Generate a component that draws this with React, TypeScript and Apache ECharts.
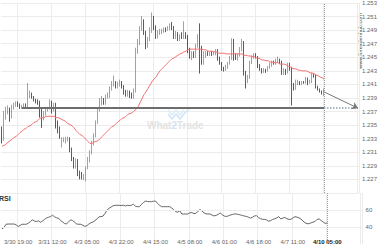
import { useEffect, useRef } from 'react';
import * as echarts from 'echarts';

const TICK_LABELS = ['3/30 19:00', '3/31 12:00', '4/3 05:00', '4/3 22:00', '4/4 15:00', '4/5 08:00', '4/6 01:00', '4/6 18:00', '4/7 11:00', '4/10 05:00'];
const FIRST_TICK = 8;
const TICK_STEP = 17;
const SLOT_COUNT = 179;

// [open, close, low, high]
const CANDLES: number[][] = [
  [1.2345, 1.2327, 1.2323, 1.2348], [1.2330, 1.2364, 1.2327, 1.2371], [1.2363, 1.2371, 1.2358, 1.2377], [1.2370, 1.2374, 1.2366, 1.2379],
  [1.2374, 1.2360, 1.2355, 1.2376], [1.2361, 1.2377, 1.2360, 1.2380], [1.2376, 1.2380, 1.2373, 1.2383], [1.2379, 1.2383, 1.2377, 1.2385],
  [1.2383, 1.2379, 1.2377, 1.2385], [1.2379, 1.2376, 1.2374, 1.2382], [1.2376, 1.2377, 1.2374, 1.2380], [1.2377, 1.2380, 1.2376, 1.2382],
  [1.2380, 1.2377, 1.2376, 1.2382], [1.2377, 1.2392, 1.2376, 1.2412], [1.2392, 1.2395, 1.2390, 1.2401], [1.2395, 1.2390, 1.2389, 1.2398],
  [1.2390, 1.2386, 1.2385, 1.2393], [1.2386, 1.2385, 1.2382, 1.2389], [1.2385, 1.2383, 1.2380, 1.2388], [1.2383, 1.2364, 1.2361, 1.2386],
  [1.2368, 1.2357, 1.2346, 1.2376], [1.2360, 1.2368, 1.2357, 1.2371], [1.2367, 1.2371, 1.2364, 1.2374], [1.2371, 1.2374, 1.2370, 1.2377],
  [1.2374, 1.2383, 1.2373, 1.2388], [1.2383, 1.2371, 1.2367, 1.2386], [1.2371, 1.2380, 1.2370, 1.2383], [1.2380, 1.2349, 1.2345, 1.2383],
  [1.2351, 1.2342, 1.2338, 1.2357], [1.2342, 1.2333, 1.2330, 1.2348], [1.2320, 1.2329, 1.2317, 1.2332], [1.2326, 1.2329, 1.2325, 1.2332],
  [1.2326, 1.2330, 1.2323, 1.2333], [1.2327, 1.2330, 1.2326, 1.2333], [1.2329, 1.2313, 1.2310, 1.2332], [1.2313, 1.2298, 1.2297, 1.2317],
  [1.2298, 1.2289, 1.2286, 1.2303], [1.2289, 1.2298, 1.2286, 1.2301], [1.2297, 1.2281, 1.2275, 1.2300], [1.2282, 1.2275, 1.2270, 1.2283],
  [1.2276, 1.2273, 1.2270, 1.2281], [1.2272, 1.2275, 1.2269, 1.2278], [1.2273, 1.2286, 1.2267, 1.2289], [1.2286, 1.2298, 1.2285, 1.2303],
  [1.2298, 1.2310, 1.2295, 1.2313], [1.2310, 1.2323, 1.2307, 1.2327], [1.2323, 1.2335, 1.2320, 1.2338], [1.2335, 1.2354, 1.2332, 1.2357],
  [1.2355, 1.2371, 1.2352, 1.2376], [1.2371, 1.2383, 1.2370, 1.2390], [1.2382, 1.2388, 1.2379, 1.2393], [1.2388, 1.2383, 1.2380, 1.2390],
  [1.2383, 1.2392, 1.2380, 1.2395], [1.2392, 1.2395, 1.2389, 1.2398], [1.2393, 1.2404, 1.2390, 1.2407], [1.2404, 1.2411, 1.2401, 1.2415],
  [1.2409, 1.2412, 1.2407, 1.2423], [1.2412, 1.2407, 1.2404, 1.2415], [1.2407, 1.2411, 1.2404, 1.2414], [1.2409, 1.2412, 1.2407, 1.2417],
  [1.2412, 1.2407, 1.2404, 1.2415], [1.2407, 1.2398, 1.2395, 1.2409], [1.2399, 1.2395, 1.2392, 1.2402], [1.2395, 1.2399, 1.2392, 1.2402],
  [1.2399, 1.2393, 1.2390, 1.2401], [1.2393, 1.2392, 1.2389, 1.2398], [1.2392, 1.2401, 1.2389, 1.2404], [1.2401, 1.2459, 1.2398, 1.2464],
  [1.2459, 1.2471, 1.2455, 1.2477], [1.2471, 1.2492, 1.2468, 1.2496], [1.2492, 1.2503, 1.2489, 1.2511], [1.2503, 1.2486, 1.2483, 1.2506],
  [1.2486, 1.2467, 1.2462, 1.2489], [1.2467, 1.2477, 1.2464, 1.2480], [1.2477, 1.2489, 1.2474, 1.2494], [1.2489, 1.2506, 1.2486, 1.2516],
  [1.2506, 1.2493, 1.2490, 1.2511], [1.2493, 1.2480, 1.2477, 1.2497], [1.2481, 1.2487, 1.2478, 1.2490], [1.2486, 1.2489, 1.2483, 1.2492],
  [1.2487, 1.2489, 1.2484, 1.2492], [1.2489, 1.2492, 1.2486, 1.2494], [1.2492, 1.2490, 1.2487, 1.2494], [1.2490, 1.2493, 1.2489, 1.2496],
  [1.2492, 1.2496, 1.2490, 1.2500], [1.2496, 1.2493, 1.2490, 1.2502], [1.2493, 1.2480, 1.2477, 1.2496], [1.2480, 1.2484, 1.2477, 1.2489],
  [1.2484, 1.2477, 1.2474, 1.2487], [1.2477, 1.2481, 1.2474, 1.2484], [1.2481, 1.2480, 1.2477, 1.2487], [1.2480, 1.2484, 1.2477, 1.2503],
  [1.2484, 1.2480, 1.2477, 1.2487], [1.2480, 1.2459, 1.2456, 1.2483], [1.2459, 1.2451, 1.2448, 1.2464], [1.2449, 1.2456, 1.2446, 1.2459],
  [1.2456, 1.2452, 1.2449, 1.2459], [1.2452, 1.2467, 1.2449, 1.2470], [1.2467, 1.2481, 1.2464, 1.2484], [1.2481, 1.2445, 1.2426, 1.2500],
  [1.2448, 1.2442, 1.2439, 1.2467], [1.2442, 1.2456, 1.2439, 1.2459], [1.2452, 1.2456, 1.2449, 1.2459], [1.2456, 1.2453, 1.2452, 1.2459],
  [1.2453, 1.2456, 1.2452, 1.2458], [1.2456, 1.2455, 1.2452, 1.2459], [1.2455, 1.2456, 1.2453, 1.2459], [1.2455, 1.2459, 1.2453, 1.2462],
  [1.2459, 1.2448, 1.2445, 1.2462], [1.2448, 1.2440, 1.2439, 1.2451], [1.2440, 1.2433, 1.2430, 1.2443], [1.2433, 1.2431, 1.2429, 1.2436],
  [1.2431, 1.2436, 1.2430, 1.2439], [1.2436, 1.2440, 1.2433, 1.2443], [1.2440, 1.2449, 1.2439, 1.2452], [1.2449, 1.2474, 1.2446, 1.2478],
  [1.2474, 1.2452, 1.2445, 1.2477], [1.2452, 1.2449, 1.2446, 1.2456], [1.2448, 1.2453, 1.2445, 1.2456], [1.2453, 1.2462, 1.2451, 1.2465],
  [1.2462, 1.2471, 1.2459, 1.2477], [1.2471, 1.2427, 1.2423, 1.2474], [1.2427, 1.2415, 1.2404, 1.2430], [1.2415, 1.2421, 1.2412, 1.2424],
  [1.2421, 1.2442, 1.2418, 1.2445], [1.2442, 1.2451, 1.2440, 1.2453], [1.2451, 1.2453, 1.2448, 1.2456], [1.2453, 1.2449, 1.2448, 1.2456],
  [1.2449, 1.2437, 1.2434, 1.2452], [1.2437, 1.2431, 1.2430, 1.2440], [1.2431, 1.2429, 1.2426, 1.2434], [1.2429, 1.2431, 1.2427, 1.2434],
  [1.2431, 1.2430, 1.2427, 1.2433], [1.2430, 1.2434, 1.2429, 1.2437], [1.2434, 1.2439, 1.2433, 1.2442], [1.2439, 1.2442, 1.2436, 1.2445],
  [1.2442, 1.2440, 1.2439, 1.2445], [1.2440, 1.2443, 1.2439, 1.2448], [1.2443, 1.2445, 1.2442, 1.2451], [1.2445, 1.2442, 1.2440, 1.2448],
  [1.2442, 1.2427, 1.2424, 1.2445], [1.2427, 1.2430, 1.2424, 1.2434], [1.2430, 1.2427, 1.2424, 1.2433], [1.2427, 1.2439, 1.2426, 1.2442],
  [1.2439, 1.2433, 1.2430, 1.2442], [1.2433, 1.2407, 1.2379, 1.2436], [1.2407, 1.2404, 1.2401, 1.2412], [1.2404, 1.2412, 1.2402, 1.2417],
  [1.2412, 1.2414, 1.2409, 1.2417], [1.2414, 1.2411, 1.2409, 1.2415], [1.2411, 1.2414, 1.2409, 1.2415], [1.2414, 1.2412, 1.2411, 1.2415],
  [1.2412, 1.2418, 1.2411, 1.2421], [1.2418, 1.2412, 1.2409, 1.2420], [1.2412, 1.2414, 1.2411, 1.2417], [1.2414, 1.2424, 1.2412, 1.2427],
  [1.2424, 1.2421, 1.2420, 1.2426], [1.2421, 1.2407, 1.2404, 1.2424], [1.2407, 1.2402, 1.2401, 1.2408], [1.2402, 1.2399, 1.2398, 1.2404],
  [1.2399, 1.2396, 1.2395, 1.2401], [1.2396, 1.2399, 1.2393, 1.2404],
];

const MA = [
  1.2319, 1.2320, 1.2322, 1.2325, 1.2327, 1.2329, 1.2332, 1.2333, 1.2336, 1.2339,
  1.2341, 1.2344, 1.2345, 1.2348, 1.2349, 1.2351, 1.2354, 1.2355, 1.2357, 1.2360,
  1.2361, 1.2361, 1.2363, 1.2363, 1.2363, 1.2363, 1.2363, 1.2361, 1.2361, 1.2360,
  1.2358, 1.2357, 1.2355, 1.2352, 1.2351, 1.2349, 1.2346, 1.2342, 1.2339, 1.2336,
  1.2335, 1.2332, 1.2329, 1.2326, 1.2323, 1.2323, 1.2325, 1.2326, 1.2327, 1.2330,
  1.2333, 1.2336, 1.2339, 1.2342, 1.2345, 1.2348, 1.2349, 1.2352, 1.2355, 1.2357,
  1.2360, 1.2361, 1.2363, 1.2366, 1.2367, 1.2368, 1.2371, 1.2373, 1.2377, 1.2383,
  1.2389, 1.2395, 1.2399, 1.2404, 1.2409, 1.2414, 1.2418, 1.2421, 1.2426, 1.2430,
  1.2433, 1.2436, 1.2439, 1.2442, 1.2445, 1.2448, 1.2449, 1.2451, 1.2453, 1.2455,
  1.2456, 1.2458, 1.2459, 1.2461, 1.2462, 1.2462, 1.2462, 1.2462, 1.2462, 1.2462,
  1.2462, 1.2461, 1.2461, 1.2459, 1.2459, 1.2459, 1.2458, 1.2458, 1.2456, 1.2456,
  1.2456, 1.2456, 1.2455, 1.2455, 1.2455, 1.2455, 1.2455, 1.2455, 1.2455, 1.2455,
  1.2455, 1.2453, 1.2453, 1.2452, 1.2452, 1.2451, 1.2451, 1.2449, 1.2449, 1.2448,
  1.2446, 1.2446, 1.2445, 1.2445, 1.2443, 1.2443, 1.2442, 1.2442, 1.2442, 1.2440,
  1.2440, 1.2440, 1.2439, 1.2437, 1.2436, 1.2434, 1.2433, 1.2433, 1.2431, 1.2431,
  1.2430, 1.2430, 1.2430, 1.2429, 1.2427, 1.2427, 1.2426, 1.2424, 1.2423, 1.2421,
  1.2420, 1.2418,
];

const RSI = [
  37.8, 39.5, 43.2, 43.5, 43.5, 43.5, 43.5, 42.5, 40.6, 42.0,
  43.2, 43.2, 43.2, 44.5, 46.2, 48.5, 47.0, 46.5, 47.3, 45.5,
  47.0, 48.8, 50.5, 51.5, 52.2, 53.8, 52.0, 50.8, 50.3, 47.5,
  46.0, 44.0, 43.8, 46.0, 48.5, 47.5, 45.5, 43.5, 43.2, 43.2,
  42.0, 40.8, 41.5, 43.5, 45.0, 45.8, 47.5, 49.5, 52.0, 52.2,
  52.8, 56.0, 60.0, 62.0, 63.5, 65.0, 65.5, 65.5, 65.5, 65.2,
  65.7, 64.7, 65.5, 65.3, 65.5, 66.8, 64.5, 63.9, 63.9, 66.5,
  68.8, 70.5, 70.0, 69.8, 69.8, 70.4, 70.5, 67.8, 65.5, 63.9,
  63.9, 63.9, 63.9, 63.9, 62.3, 60.5, 58.0, 57.5, 59.0, 55.3,
  55.3, 55.3, 55.3, 56.8, 57.0, 55.8, 56.0, 58.5, 60.5, 58.8,
  56.6, 55.5, 55.3, 55.3, 54.0, 53.0, 53.7, 54.8, 56.6, 54.5,
  52.9, 52.4, 53.0, 54.0, 54.7, 55.3, 55.3, 54.8, 54.2, 53.5,
  52.9, 52.4, 51.6, 50.4, 51.5, 53.0, 53.3, 51.0, 49.8, 49.0,
  49.0, 48.4, 46.8, 47.5, 49.0, 49.7, 50.7, 52.2, 49.5, 50.5,
  51.2, 49.8, 49.0, 49.0, 50.6, 52.1, 51.6, 50.8, 49.2, 47.0,
  45.0, 44.0, 43.8, 45.0, 45.7, 46.6, 49.0, 49.5, 47.6, 45.8,
  44.1, 45.0,
];

const SUPPORT = 1.2375;
const SUPPORT_START = 10;

const FONT = 'Liberation Sans, Arial, sans-serif';

export default function App() {
  const ref = useRef<HTMLDivElement>(null);
  useEffect(() => {
    if (!ref.current) return;
    const chart = echarts.init(ref.current, undefined, { renderer: 'svg' });
    const last = CANDLES.length - 1;
    const lastIdx = SLOT_COUNT - 1;
    const cats = Array.from({ length: SLOT_COUNT }, (_, i) => 'c' + i);
    const isTick = (i: number) => i >= FIRST_TICK && (i - FIRST_TICK) % TICK_STEP === 0;
    const gridLine = { show: true, interval: (i: number) => isTick(i), lineStyle: { color: '#ececec', width: 1 } };
    const baseX = {
      type: 'category',
      data: cats,
      boundaryGap: true,
      axisLine: { show: false },
      axisTick: { show: false },
      splitLine: gridLine,
    };
    chart.setOption({
      animation: false,
      backgroundColor: '#ffffff',
      textStyle: { fontFamily: FONT },
      grid: [
        { left: 1, top: 2, width: 361.6, height: 191 },
        { left: 1, top: 193, width: 361.6, height: 51 },
      ],
      xAxis: [
        { ...baseX, gridIndex: 0, axisLabel: { show: false } },
        {
          ...baseX,
          gridIndex: 1,
          axisLabel: {
            show: true,
            interval: (i: number) => isTick(i),
            margin: -5,
            fontSize: 6,
            color: '#666',
            fontFamily: FONT,
            formatter: (_v: string, idx: number) => {
              const k = (idx - FIRST_TICK) / TICK_STEP;
              const t = TICK_LABELS[k] ?? '';
              return k === TICK_LABELS.length - 1 ? '{b|' + t + '}' : t;
            },
            rich: { b: { fontSize: 6, color: '#222', fontWeight: 'bold', fontFamily: FONT } },
          },
        },
      ],
      yAxis: [
        {
          type: 'value',
          gridIndex: 0,
          position: 'right',
          min: 1.225,
          max: 1.253,
          interval: 0.002,
          axisLine: { show: false },
          axisTick: { show: false },
          axisLabel: {
            fontSize: 6,
            color: '#666',
            margin: 3,
            fontFamily: FONT,
            showMinLabel: false,
            formatter: (v: number) => v.toFixed(3),
          },
          splitLine: { show: true, lineStyle: { color: '#ececec', width: 1 } },
        },
        {
          type: 'value',
          gridIndex: 1,
          position: 'right',
          min: 20,
          max: 80,
          interval: 20,
          axisLine: { show: false },
          axisTick: { show: false },
          axisLabel: { fontSize: 6, color: '#666', margin: 3, fontFamily: FONT, showMinLabel: false, showMaxLabel: false },
          splitLine: { show: false },
        },
      ],
      series: [
        {
          type: 'candlestick',
          xAxisIndex: 0,
          yAxisIndex: 0,
          data: CANDLES,
          barWidth: 1.2,
          itemStyle: { color: '#29a9e1', color0: '#333333', borderColor: '#29a9e1', borderColor0: '#333333', borderWidth: 0.8 },
          z: 3,
          markLine: {
            silent: true,
            symbol: 'none',
            label: { show: false },
            emphasis: { disabled: true },
            data: [
              [
                { coord: [SUPPORT_START, SUPPORT], lineStyle: { color: '#6e6e6e', width: 2, type: 'solid' } },
                { coord: [last, SUPPORT] },
              ],
              [
                { coord: [last, SUPPORT], lineStyle: { color: '#8fa3b5', width: 1.5, type: 'dotted' } },
                { coord: [lastIdx, SUPPORT] },
              ],
              [
                { coord: [last, CANDLES[last][1]], symbol: 'none', lineStyle: { color: '#7a7a7a', width: 1, type: 'solid' } },
                { coord: [lastIdx, SUPPORT], symbol: 'arrow', symbolSize: 6 },
              ],
              { xAxis: last, lineStyle: { color: '#9a9a9a', width: 1, type: 'dotted' } },
            ],
          },
        },
        {
          type: 'line',
          xAxisIndex: 0,
          yAxisIndex: 0,
          data: MA,
          symbol: 'none',
          lineStyle: { color: '#f27474', width: 1 },
          itemStyle: { color: '#f27474' },
          z: 4,
        },
        {
          type: 'line',
          xAxisIndex: 1,
          yAxisIndex: 1,
          data: RSI,
          symbol: 'none',
          lineStyle: { color: '#666666', width: 1 },
          itemStyle: { color: '#666666' },
          markLine: {
            silent: true,
            symbol: 'none',
            label: { show: false },
            emphasis: { disabled: true },
            data: [
              { yAxis: 40, lineStyle: { color: '#ececec', width: 1, type: 'solid' } },
              { yAxis: 60, lineStyle: { color: '#ececec', width: 1, type: 'solid' } },
              { xAxis: last, lineStyle: { color: '#9a9a9a', width: 1, type: 'dotted' } },
            ],
          },
        },
      ],
      graphic: [
        {
          type: 'polyline',
          z: 1,
          shape: { points: [[168, 114], [172, 119], [176, 114], [180, 119], [184, 114], [189, 109]] },
          style: { stroke: '#cfe5f5', lineWidth: 1.5, fill: null },
        },
        {
          type: 'polyline',
          z: 1,
          shape: { points: [[168, 110], [172, 115], [176, 110], [180, 115], [184, 110]] },
          style: { stroke: '#d9ecf8', lineWidth: 1.5, fill: null },
        },
        {
          type: 'text',
          z: 1,
          x: 147,
          y: 120,
          style: {
            text: '{a|What}{b|2}{a|Trade}',
            rich: {
              a: { fontSize: 10, fontWeight: 'bold', fill: '#e3e3e3', fontFamily: FONT },
              b: { fontSize: 10, fontWeight: 'bold', fill: '#cfe5f5', fontFamily: FONT },
            },
          },
        },
        {
          type: 'text',
          x: 360,
          y: 41,
          rotation: Math.PI / 2,
          style: {
            text: 'www.forexdenhub.com',
            fontSize: 5.5,
            fill: '#555',
            align: 'center',
            verticalAlign: 'middle',
            fontFamily: FONT,
          },
        },
        {
          type: 'text',
          x: -1,
          y: 195,
          style: { text: 'RSI', fontSize: 7, fontWeight: 'bold', fill: '#333', fontFamily: FONT },
        },
      ],
    });
    return () => chart.dispose();
  }, []);
  return <div ref={ref} style={{ position: 'fixed', left: 0, top: 0, width: 380, height: 250, background: '#fff' }} />;
}
